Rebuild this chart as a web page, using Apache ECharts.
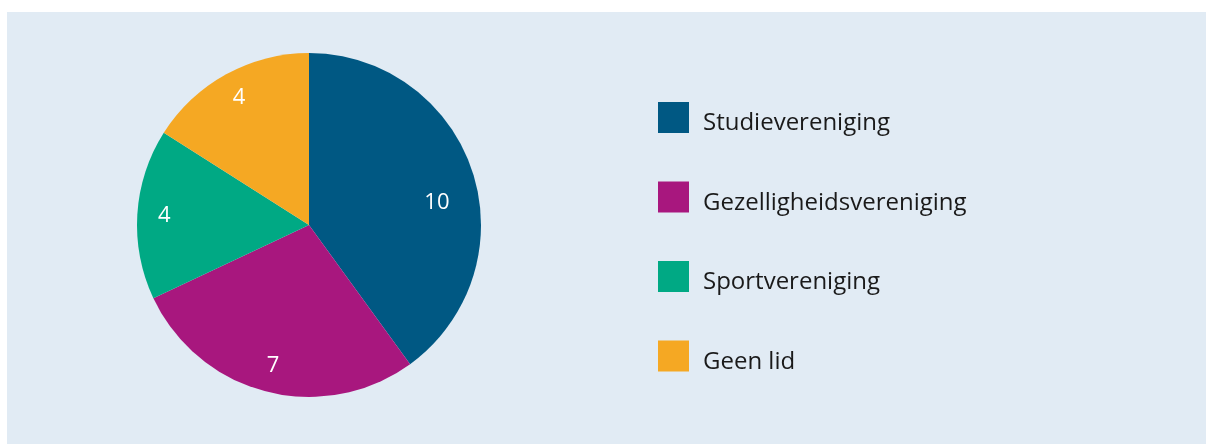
<!DOCTYPE html>
<html>
<head>
<meta charset="utf-8">
<script src="https://cdn.jsdelivr.net/npm/echarts@6/dist/echarts.min.js"></script>
<style>
  html, body { margin: 0; padding: 0; background: #ffffff; }
  #chart { position: absolute; left: 7px; top: 12px; width: 1199px; height: 432px; background: #e1ebf4; }
</style>
</head>
<body>
<div id="chart"></div>
<script>
// pie data, clockwise from 12 o'clock
const categories = ['Studievereniging', 'Gezelligheidsvereniging', 'Sportvereniging', 'Geen lid'];
const counts = [10, 7, 4, 4];
const colors = ['#005883', '#a8177e', '#00a984', '#f5a823'];

const pieData = categories.map(function (name, i) {
    return { name: name, value: counts[i], itemStyle: { color: colors[i] } };
});

let myChart = echarts.init(document.getElementById('chart'));
let option = {
    animation: false,
    legend: {
        orient: 'vertical',
        left: 646,
        top: 85,
        itemWidth: 31,
        itemHeight: 31,
        itemGap: 46,
        icon: 'rect',
        data: categories,
        // text sits a little below the square's middle in the original
        formatter: '{t|{name}}',
        textStyle: {
            padding: [0, 0, 0, 9],
            rich: {
                t: { fontFamily: 'Open Sans', fontSize: 24, color: '#1a1a1a', padding: [12, 0, 0, 0] }
            }
        },
        selectedMode: false
    },
    series: [
        {
            type: 'pie',
            center: [302, 213],
            radius: [0, 172],
            startAngle: 90,
            clockwise: true,
            silent: true,
            label: { show: false },
            labelLine: { show: false },
            data: pieData
        },
        {
            // label ring, sits over the outer part of the pie
            type: 'pie',
            center: [302, 213],
            radius: [112, 172],
            startAngle: 90,
            clockwise: true,
            silent: true,
            itemStyle: { color: 'transparent' },
            label: {
                show: true,
                position: 'inside',
                formatter: '{c}',
                color: '#ffffff',
                fontFamily: 'Open Sans',
                fontSize: 22
            },
            labelLine: { show: false },
            // the big slice's number sits lower in the original
            labelLayout: function (params) {
                if (params.dataIndex === 0) return { dx: -10, dy: 23 };
                return {};
            },
            data: categories.map(function (name, i) { return { name: name, value: counts[i] }; })
        }
    ]
};
myChart.setOption(option);
</script>
</body>
</html>
